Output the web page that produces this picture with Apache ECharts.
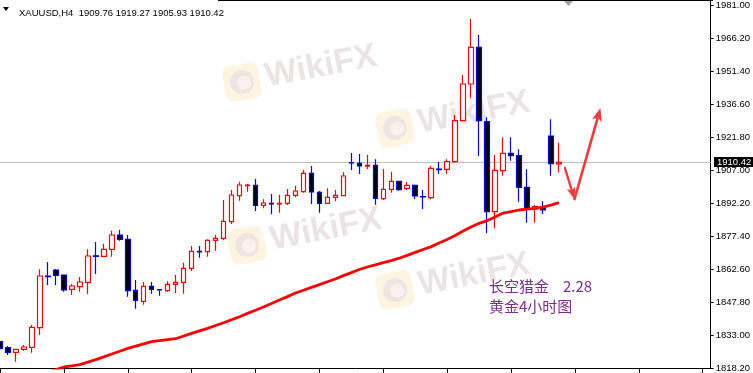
<!DOCTYPE html>
<html><head><meta charset="utf-8">
<script src="https://cdn.jsdelivr.net/npm/echarts@6/dist/echarts.min.js"></script>
<style>html,body{margin:0;padding:0;background:#fff}#c{width:753px;height:373px}</style>
</head><body><div id="c"></div>
<script>
// ---- data ----
const titleText = 'XAUUSD,H4  1909.76 1919.27 1905.93 1910.42';
const slotCount = 90;
const categories = Array.from({length: slotCount}, (_, i) => String(i + 1));
// [open, close, low, high]
const candles = [
  [1829.99,1827.03,1825.82,1830.44],
  [1827.30,1825.24,1824.03,1828.06],
  [1825.24,1826.58,1821.02,1826.70],
  [1826.58,1827.62,1825.96,1828.51],
  [1827.48,1836.45,1825.06,1837.48],
  [1836.27,1859.46,1833.00,1862.46],
  [1859.46,1859.19,1855.42,1865.74],
  [1862.15,1859.77,1855.42,1862.60],
  [1859.91,1853.18,1852.42,1860.00],
  [1853.49,1854.97,1850.94,1855.87],
  [1854.66,1856.77,1852.42,1859.01],
  [1856.63,1868.43,1851.39,1871.43],
  [1868.50,1868.30,1860.36,1874.71],
  [1868.30,1871.43,1868.12,1873.81],
  [1871.43,1877.85,1868.12,1879.78],
  [1877.85,1875.92,1875.29,1880.09],
  [1875.92,1852.87,1850.18,1877.85],
  [1853.05,1848.56,1844.79,1857.67],
  [1848.11,1854.84,1846.59,1856.77],
  [1854.84,1853.49,1851.52,1856.77],
  [1853.40,1853.20,1850.62,1853.50],
  [1852.87,1855.74,1852.42,1857.08],
  [1855.74,1856.63,1851.70,1859.91],
  [1856.63,1862.91,1851.52,1865.42],
  [1862.91,1870.54,1861.70,1872.92],
  [1870.50,1870.30,1867.67,1872.92],
  [1870.36,1875.47,1868.12,1875.92],
  [1875.47,1876.37,1870.81,1877.85],
  [1876.37,1883.99,1875.60,1893.54],
  [1883.81,1895.79,1882.78,1898.03],
  [1895.47,1900.27,1893.23,1901.75],
  [1899.96,1900.27,1897.27,1900.72],
  [1900.14,1891.17,1888.61,1902.96],
  [1891.17,1892.20,1889.82,1893.86],
  [1892.00,1891.80,1887.13,1896.24],
  [1891.80,1892.00,1887.85,1895.79],
  [1892.06,1895.65,1891.30,1898.48],
  [1895.65,1897.58,1894.76,1899.96],
  [1897.27,1905.52,1896.82,1907.00],
  [1905.52,1897.13,1891.75,1908.79],
  [1897.00,1892.06,1887.85,1897.58],
  [1892.06,1894.76,1891.75,1898.79],
  [1894.76,1895.65,1892.96,1898.03],
  [1895.47,1904.31,1895.34,1906.10],
  [1910.36,1910.14,1907.00,1914.62],
  [1910.00,1908.79,1905.21,1914.18],
  [1908.70,1909.10,1907.45,1913.73],
  [1909.11,1894.31,1891.44,1911.80],
  [1894.13,1898.34,1893.54,1907.45],
  [1898.34,1901.93,1896.82,1906.24],
  [1901.93,1898.16,1897.71,1902.20],
  [1898.79,1900.14,1898.03,1901.62],
  [1900.14,1895.34,1893.99,1900.50],
  [1895.11,1894.90,1889.51,1898.03],
  [1894.58,1907.76,1893.86,1908.79],
  [1907.40,1907.20,1905.21,1910.72],
  [1907.31,1910.72,1905.21,1911.80],
  [1910.72,1929.11,1910.27,1931.67],
  [1929.11,1945.57,1928.98,1949.61],
  [1945.57,1962.03,1939.16,1974.72],
  [1962.03,1929.11,1913.28,1967.55],
  [1928.66,1888.30,1878.61,1930.63],
  [1888.30,1906.87,1880.85,1913.73],
  [1906.69,1914.49,1904.44,1921.66],
  [1914.49,1913.41,1911.17,1921.66],
  [1913.41,1899.24,1892.78,1916.28],
  [1899.24,1889.51,1883.36,1907.31],
  [1889.51,1890.54,1883.36,1891.30],
  [1890.54,1889.06,1887.27,1892.96],
  [1922.25,1909.80,1904.44,1929.74],
  [1909.76,1910.42,1905.93,1919.27]
];
const maValues = [
  null,null,null,null,null,null,
  1816.18,1817.53,1818.65,1819.18,1819.68,1820.84,1821.97,1823.18,1824.48,1825.73,
  1827.03,1828.02,1829.01,1829.99,1830.44,1830.89,1831.34,1832.55,1833.76,1834.88,
  1836.00,1837.26,1838.51,1839.86,1841.21,1842.69,1844.12,1845.56,1847.13,1848.70,
  1850.22,1851.83,1853.09,1854.35,1855.60,1856.90,1858.11,1859.64,1860.98,1862.37,
  1863.50,1864.44,1865.42,1866.37,1867.44,1868.74,1870.04,1871.34,1872.64,1874.26,
  1875.87,1877.67,1879.60,1881.48,1883.09,1884.26,1885.92,1887.67,1888.34,1889.06,
  1889.42,1889.78,1890.32,1891.21,1892.33
];
const lastPrice = 1910.42;
const yMin = 1818.2, yMax = 1983.24, yStep = 14.8;
const noteLine1 = '长空猎金', noteDate = '2.28', noteLine2 = '黄金4小时图';
// arrow sketch points in data space [slot index, price]
const arrowDown = [[70.75, 1907.9], [71.95, 1893.9]];
const arrowUp = [[71.95, 1893.9], [75.2, 1934.8]];

// ---- chart ----
const chart = echarts.init(document.getElementById('c'), null, {renderer: 'canvas'});
const axisFont = 'Liberation Sans, Arial, sans-serif';
chart.setOption({
  animation: false,
  backgroundColor: '#fff',
  title: {
    text: titleText, left: 14, top: 3,
    textStyle: {fontSize: 9.5, fontWeight: 'normal', color: '#000', fontFamily: axisFont}
  },
  grid: {left: 0, right: 40, top: 0, bottom: 5},
  xAxis: {
    type: 'category', data: categories, boundaryGap: false,
    axisLine: {show: true, lineStyle: {color: '#000', width: 1}},
    axisTick: {show: true, interval: 7, length: 5, lineStyle: {color: '#000'}},
    axisLabel: {show: false},
    splitLine: {show: false}
  },
  yAxis: {
    type: 'value', position: 'right', min: yMin, max: yMax, interval: yStep,
    scale: true,
    axisLine: {show: true, lineStyle: {color: '#000', width: 1}},
    axisTick: {show: true, length: 3, lineStyle: {color: '#000'}},
    axisLabel: {
      show: true, margin: 5, color: '#000', fontSize: 9.5, fontFamily: axisFont,
      showMaxLabel: false,
      formatter: v => v.toFixed(2)
    },
    splitLine: {show: false}
  },
  series: [
    {
      type: 'candlestick', data: candles, barWidth: 5, z: 3,
      itemStyle: {color: '#fff', color0: '#000', borderColor: '#ff0000', borderColor0: '#0000ff', borderWidth: 1.2},
      markLine: {
        silent: true, symbol: ['none', 'none'],
        lineStyle: {color: '#c0c0c0', width: 1, type: 'solid'},
        label: {show: false},
        data: [{yAxis: lastPrice}],
        z: 1
      }
    },
    {
      type: 'line', data: maValues, showSymbol: false, symbol: 'none', z: 4,
      lineStyle: {color: '#ff0000', width: 2.8}, clip: true
    }
  ]
});

function px(i, price) {
  const i0 = Math.floor(i), f = i - i0;
  const a = chart.convertToPixel({xAxisIndex: 0}, categories[i0]);
  const b = chart.convertToPixel({xAxisIndex: 0}, categories[i0 + 1]);
  const y = chart.convertToPixel({yAxisIndex: 0}, price);
  return [a + (b - a) * f, y];
}
function arrow(p0, p1, len, half, color, width) {
  const A = px(p0[0], p0[1]), B = px(p1[0], p1[1]);
  const dx = B[0] - A[0], dy = B[1] - A[1], d = Math.hypot(dx, dy);
  const ux = dx / d, uy = dy / d;
  const base = [B[0] - ux * len, B[1] - uy * len];
  const nx = -uy, ny = ux;
  return [
    {type: 'line', z: 120, shape: {x1: A[0], y1: A[1], x2: base[0] + ux * 2, y2: base[1] + uy * 2},
      style: {stroke: color, lineWidth: width, lineCap: 'round'}},
    {type: 'polygon', z: 120, shape: {points: [B, [base[0] + nx * half, base[1] + ny * half], [base[0] + ux * 3, base[1] + uy * 3], [base[0] - nx * half, base[1] - ny * half]]},
      style: {fill: color}}
  ];
}
function watermark(x, y) {
  return {
    type: 'group', x: x, y: y, rotation: 0.19, z: -10, silent: true,
    children: [
      {type: 'rect', shape: {x: -18, y: -18, width: 36, height: 36, r: 8}, style: {fill: '#fdf4e2'}},
      {type: 'circle', shape: {cx: 0, cy: 0, r: 12}, style: {fill: '#efe6e4'}},
      {type: 'circle', shape: {cx: 2, cy: 1, r: 7}, style: {fill: '#f8f1ee'}},
      {type: 'text', x: 24, y: 0, style: {text: 'WikiFX', font: 'bold 34px "Liberation Sans", Arial, sans-serif', fill: '#ece4e4', verticalAlign: 'middle'}}
    ]
  };
}

const priceY = chart.convertToPixel({yAxisIndex: 0}, lastPrice);
const arrowColor = '#f43b3b';
const gfx = [
  watermark(242, 82), watermark(395, 128), watermark(247, 245), watermark(395, 290),
  // top frame segment and shift marker
  {type: 'line', z: 50, shape: {x1: 218, y1: 0.5, x2: 713, y2: 0.5}, style: {stroke: '#000', lineWidth: 1}},
  {type: 'polygon', z: 50, shape: {points: [[564, 1], [573, 1], [568.5, 6]]}, style: {fill: '#a0a0a0'}},
  // title marker
  {type: 'polygon', z: 50, shape: {points: [[3, 7], [9, 7], [6, 11]]}, style: {fill: '#000'}},
  // current price box
  {type: 'rect', z: 60, shape: {x: 714, y: Math.round(priceY) - 5, width: 39, height: 10}, style: {fill: '#000'}},
  {type: 'text', z: 61, x: 717, y: Math.round(priceY), style: {text: lastPrice.toFixed(2), font: '9.5px "Liberation Sans", Arial, sans-serif', fill: '#fff', verticalAlign: 'middle'}},
  // note texts
  {type: 'text', z: 100, x: 489, y: 286, style: {text: noteLine1, font: '15px "Noto Sans CJK SC"', fill: '#7b2d8e', verticalAlign: 'middle'}},
  {type: 'text', z: 100, x: 563, y: 286, style: {text: noteDate, font: '15px "Noto Sans CJK SC"', fill: '#7b2d8e', verticalAlign: 'middle'}},
  {type: 'text', z: 100, x: 489, y: 306, style: {text: noteLine2, font: '15px "Noto Sans CJK SC"', fill: '#7b2d8e', verticalAlign: 'middle'}}
].concat(arrow(arrowDown[0], arrowDown[1], 12, 4.5, arrowColor, 2.4))
 .concat(arrow(arrowUp[0], arrowUp[1], 13, 5, arrowColor, 2.6));
chart.setOption({graphic: {elements: gfx}});
</script>
</body></html>
